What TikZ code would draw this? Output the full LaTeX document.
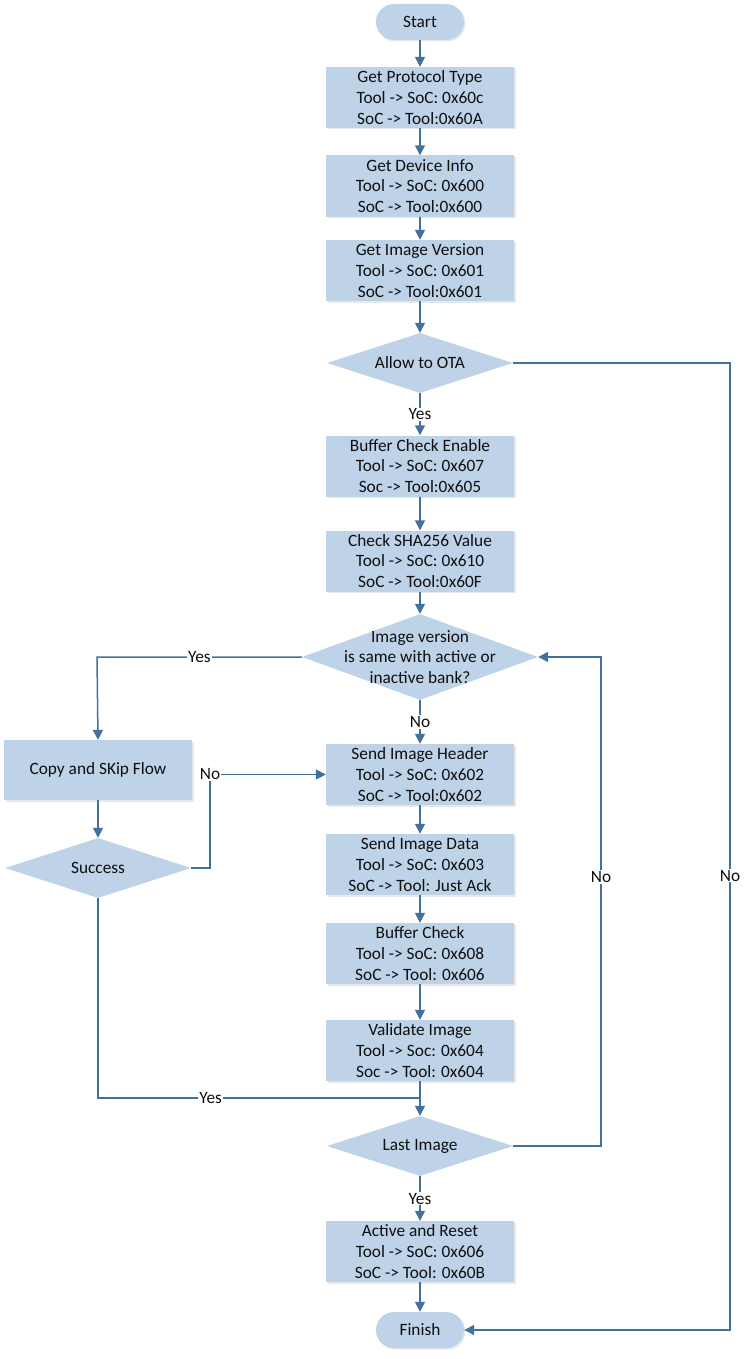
\documentclass[tikz,border=0pt]{standalone}
\usepackage{fontspec}
\setmainfont{Carlito}
\usepackage{tikz}
\usetikzlibrary{shapes.geometric,arrows.meta,shadows}
\definecolor{boxfill}{RGB}{190,211,232}
\definecolor{flowline}{RGB}{65,113,156}
\definecolor{txt}{RGB}{15,15,15}
\newcommand*{\fs}{\fontsize{17.3}{20.7}\selectfont}

\begin{document}
\begin{tikzpicture}[x=1pt,y=-1pt,
  every node/.style={font=\fs,text=txt},
  stepbox/.style={rectangle,fill=boxfill,minimum width=188pt,minimum height=61pt,
    align=center,inner sep=0pt,
    drop shadow={opacity=.18,shadow xshift=1.5pt,shadow yshift=-1.5pt}},
  terminal/.style={rectangle,rounded corners=18pt,fill=boxfill,minimum width=88pt,
    minimum height=36pt,inner sep=0pt,
    drop shadow={opacity=.18,shadow xshift=1.5pt,shadow yshift=-1.5pt}},
  decision/.style={diamond,fill=boxfill,inner sep=0pt},
  flow/.style={draw=flowline,line width=1.5pt},
  arr/.style={flow,-{Triangle[length=10pt,width=10pt]}},
  lbl/.style={fill=white,inner sep=1pt}]
\useasboundingbox (0,0) rectangle (748,1359);
% Main column
\node[terminal] (start) at (420,22) {Start};
\node[stepbox] (proto) at (420,97.5) {Get Protocol Type\\Tool -> SoC: 0x60c\\SoC -> Tool:0x60A};
\node[stepbox] (dev) at (420,186) {Get Device Info\\Tool -> SoC: 0x600\\SoC -> Tool:0x600};
\node[stepbox] (imgv) at (420,270.5) {Get Image Version\\Tool -> SoC: 0x601\\SoC -> Tool:0x601};
\node[decision,minimum width=186pt,minimum height=60pt,
  label=center:{Allow to OTA}] (ota) at (420,363) {};
\node[stepbox] (bufen) at (420,466) {Buffer Check Enable\\Tool -> SoC: 0x607\\Soc -> Tool:0x605};
\node[stepbox] (sha) at (420,561) {Check SHA256 Value\\Tool -> SoC: 0x610\\SoC -> Tool:0x60F};
\node[decision,minimum width=236pt,minimum height=86pt,
  label={[align=center]center:Image version\\is same with active or\\inactive bank?}] (same) at (420,657) {};
\node[stepbox] (hdr) at (420,774.5) {Send Image Header\\Tool -> SoC: 0x602\\SoC -> Tool:0x602};
\node[stepbox] (data) at (420,864.5) {Send Image Data\\Tool -> SoC: 0x603\\SoC -> Tool: Just Ack};
\node[stepbox] (bchk) at (420,953.5) {Buffer Check\\Tool -> SoC: 0x608\\SoC -> Tool: 0x606};
\node[stepbox] (valid) at (420,1050.5) {Validate Image\\Tool -> Soc: 0x604\\Soc -> Tool: 0x604};
\node[decision,minimum width=186pt,minimum height=60pt,
  label=center:{Last Image}] (last) at (420,1146) {};
\node[stepbox] (act) at (420,1251.5) {Active and Reset\\Tool -> SoC: 0x606\\SoC -> Tool: 0x60B};
\node[terminal] (fin) at (420,1330) {Finish};
% Skip branch on the left
\node[stepbox,minimum height=60pt] (copy) at (98,770) {Copy and SKip Flow};
\node[decision,minimum width=186pt,minimum height=60pt,
  label=center:{Success}] (succ) at (98,868) {};
% Corner points
\coordinate (otaR) at (730,363);
\coordinate (finR) at (730,1330);
\coordinate (sameL) at (97,657);
\coordinate (succR) at (210,868);
\coordinate (succUp) at (210,774.5);
\coordinate (join) at (420,1098);
\coordinate (lastR) at (601,1146);
\coordinate (sameR) at (601,657);
% Straight arrows down the middle
\draw[arr] (start) -- (proto);
\draw[arr] (proto) -- (dev);
\draw[arr] (dev) -- (imgv);
\draw[arr] (imgv) -- (ota);
\draw[arr] (ota) -- node[lbl] {Yes} (bufen);
\draw[arr] (bufen) -- (sha);
\draw[arr] (sha) -- (same);
\draw[arr] (same) -- node[lbl] {No} (hdr);
\draw[arr] (hdr) -- (data);
\draw[arr] (data) -- (bchk);
\draw[arr] (bchk) -- (valid);
\draw[arr] (valid) -- (last);
\draw[arr] (last) -- node[lbl] {Yes} (act);
\draw[arr] (act) -- (fin);
% Loops and side branches
\draw[arr] (ota.east) -- (otaR) -- node[lbl,pos=.53] {No} (finR) -- (fin.east);
\draw[arr] (same.west) -- node[lbl] {Yes} (sameL) -- (copy.north);
\draw[arr] (copy) -- (succ);
\draw[arr] (succ.east) -- (succR) -- (succUp) node[lbl] {No} -- (hdr.west);
\draw[flow] (succ.south) |- node[lbl,pos=.675] {Yes} (join);
\draw[arr] (last.east) -- (lastR) -- node[lbl,pos=.55] {No} (sameR) -- (same.east);
\end{tikzpicture}
\end{document}
